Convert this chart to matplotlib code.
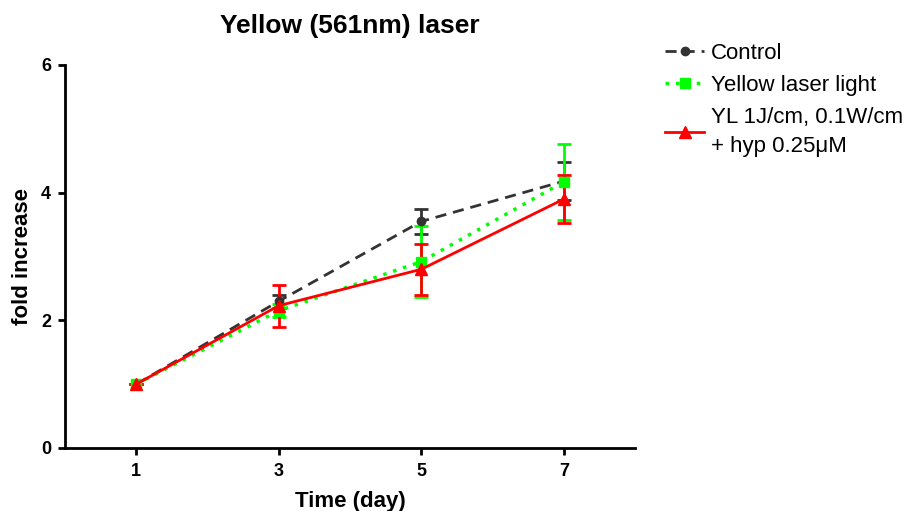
import numpy as np
import matplotlib
matplotlib.use("Agg")
import matplotlib.pyplot as plt

plt.rcParams['font.family'] = ['Liberation Sans', 'DejaVu Sans']

days = [1, 3, 5, 7]
control = [1.0, 2.3, 3.55, 4.18]
control_err = [0.0, 0.1, 0.2, 0.3]
yellow = [1.0, 2.15, 2.92, 4.17]
yellow_err = [0.0, 0.1, 0.56, 0.6]
yl_hyp = [1.0, 2.23, 2.8, 3.9]
yl_hyp_err = [0.0, 0.33, 0.4, 0.38]

fig = plt.figure(figsize=(9.13, 5.11), dpi=100)
ax = fig.add_axes([0.0712, 0.1233, 0.6245, 0.7495])

c = ax.errorbar(days, control, yerr=control_err, color='#333333', ls=(0, (4, 2.5)),
                lw=2, marker='o', ms=6, capsize=5, capthick=2, elinewidth=2,
                label='Control')
g = ax.errorbar(days, yellow, yerr=yellow_err, color='#00ff00', ls=(0, (1, 2)),
                lw=2.5, marker='s', ms=7, capsize=5, capthick=2, elinewidth=2,
                label='Yellow laser light')
r = ax.errorbar(days, yl_hyp, yerr=yl_hyp_err, color='#ff0000', ls='-',
                lw=2, marker='^', ms=8, capsize=5, capthick=2, elinewidth=2,
                label='YL 1J/cm, 0.1W/cm\n+ hyp 0.25\u03bcM')

ax.set_xlim(0, 8)
ax.set_ylim(0, 6)
ax.set_xticks(days)
ax.set_yticks([0, 2, 4, 6])
for s in ['top', 'right']:
    ax.spines[s].set_visible(False)
for s in ['left', 'bottom']:
    ax.spines[s].set_linewidth(2)
ax.tick_params(width=2, length=5, labelsize=13, pad=5)
ax.tick_params(axis='x', pad=6)
for lab in ax.get_xticklabels() + ax.get_yticklabels():
    lab.set_fontweight('bold')

ax.set_title('Yellow (561nm) laser', fontsize=19, fontweight='bold', pad=23)
ax.set_xlabel('Time (day)', fontsize=16, fontweight='bold', labelpad=8)
ax.set_ylabel('fold increase', fontsize=16, fontweight='bold', labelpad=6)

leg = ax.legend([c[0], g[0], r[0]],
                ['Control', 'Yellow laser light', 'YL 1J/cm, 0.1W/cm\n+ hyp 0.25\u03bcM'],
                loc='upper left', bbox_to_anchor=(1.018, 1.11), frameon=False,
                fontsize=16, handlelength=1.75, handletextpad=0.3, labelspacing=0.5)
leg.get_texts()[2].set_linespacing(1.5)

fig.savefig('out.png', dpi=100)
